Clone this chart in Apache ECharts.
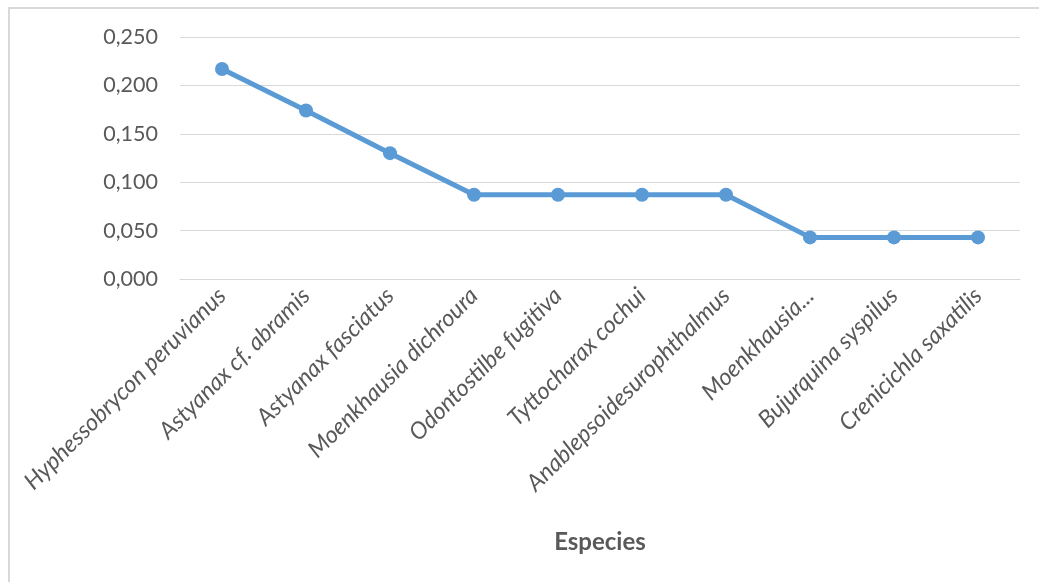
<!DOCTYPE html>
<html>
<head>
<meta charset="utf-8">
<script src="https://cdn.jsdelivr.net/npm/echarts@6/dist/echarts.min.js"></script>
<style>
  html, body { margin: 0; padding: 0; background: #fff; }
  #chart { width: 1039px; height: 582px; }
</style>
</head>
<body>
<div id="chart"></div>
<script>
// Species along the x axis
const species = [
  'Hyphessobrycon peruvianus',
  'Astyanax cf. abramis',
  'Astyanax fasciatus',
  'Moenkhausia dichroura',
  'Odontostilbe fugitiva',
  'Tyttocharax cochui',
  'Anablepsoidesurophthalmus',
  'Moenkhausia...',
  'Bujurquina syspilus',
  'Crenicichla saxatilis'
];

// Value per species
const values = [0.217, 0.174, 0.130, 0.087, 0.087, 0.087, 0.087, 0.043, 0.043, 0.043];

// Y axis range and step
const yMin = 0;
const yMax = 0.25;
const yStep = 0.05;

const axisTitle = 'Especies';

const textColor = '#595959';
const lineColor = '#5B9BD5';
const fontFamily = 'Lato, "Open Sans", sans-serif';

const chart = echarts.init(document.getElementById('chart'), null, { renderer: 'canvas' });

chart.setOption({
  animation: false,
  backgroundColor: '#ffffff',
  graphic: [
    {
      type: 'polyline',
      shape: { points: [[9, 582], [9, 8], [1039, 8]] },
      style: { stroke: '#d9d9d9', lineWidth: 2, fill: null },
      silent: true
    }
  ],
  grid: {
    left: 180,
    right: 19,
    top: 37,
    bottom: 303,
    containLabel: false
  },
  xAxis: {
    type: 'category',
    data: species,
    boundaryGap: true,
    name: axisTitle,
    nameLocation: 'middle',
    nameGap: 251,
    nameTextStyle: {
      color: textColor,
      fontSize: 24,
      fontWeight: 'bold',
      fontFamily: fontFamily
    },
    axisLine: { show: true, lineStyle: { color: '#d9d9d9', width: 1 } },
    axisTick: { show: false },
    axisLabel: {
      rotate: 45,
      interval: 0,
      margin: 13,
      color: textColor,
      fontSize: 23.5,
      fontStyle: 'italic',
      fontFamily: fontFamily
    }
  },
  yAxis: {
    type: 'value',
    min: yMin,
    max: yMax,
    interval: yStep,
    axisLine: { show: false },
    axisTick: { show: false },
    splitLine: { lineStyle: { color: '#d9d9d9', width: 1 } },
    axisLabel: {
      margin: 22,
      color: textColor,
      fontSize: 21.5,
      fontFamily: fontFamily,
      formatter: v => v.toFixed(3).replace('.', ',')
    }
  },
  series: [
    {
      type: 'line',
      data: values,
      symbol: 'circle',
      symbolSize: 14,
      lineStyle: { color: lineColor, width: 5 },
      itemStyle: { color: lineColor },
      z: 3
    }
  ]
});
</script>
</body>
</html>
